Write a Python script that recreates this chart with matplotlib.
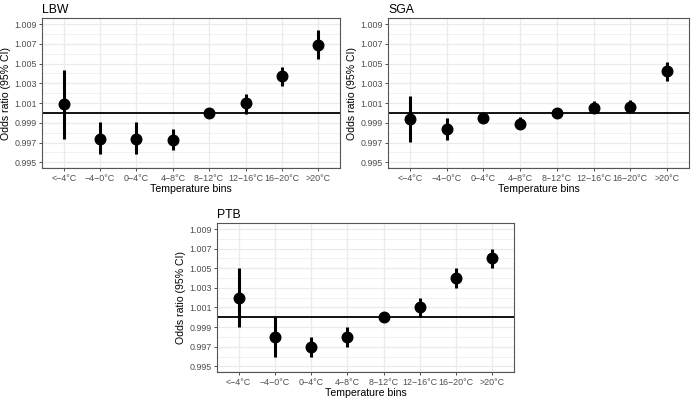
import matplotlib
matplotlib.use("Agg")
import matplotlib.pyplot as plt
import numpy as np

plt.rcParams['font.family'] = ['Liberation Sans', 'DejaVu Sans']

bins = ["<\u22124°C", "\u22124\u22120°C", "0\u22124°C", "4\u22128°C",
        "8\u221212°C", "12\u221216°C", "16\u221220°C", ">20°C"]
y_ticks = [0.995, 0.997, 0.999, 1.001, 1.003, 1.005, 1.007, 1.009]

lbw_or = [1.0009, 0.9974, 0.9974, 0.9973, 1.0000, 1.0010, 1.0037, 1.0069]
lbw_lo = [0.9974, 0.9958, 0.9958, 0.9962, 0.9999, 0.9999, 1.0027, 1.0055]
lbw_hi = [1.0044, 0.9991, 0.9991, 0.9984, 1.0001, 1.0019, 1.0047, 1.0084]

sga_or = [0.9994, 0.9984, 0.9995, 0.9989, 1.0000, 1.0005, 1.0006, 1.0042]
sga_lo = [0.9971, 0.9973, 0.9992, 0.9985, 0.9999, 1.0001, 1.0001, 1.0032]
sga_hi = [1.0017, 0.9995, 0.9998, 0.99955, 1.0001, 1.0012, 1.0013, 1.0052]

ptb_or = [1.002, 0.998, 0.997, 0.998, 1.000, 1.001, 1.004, 1.006]
ptb_lo = [0.999, 0.996, 0.996, 0.997, 0.9999, 1.000, 1.003, 1.005]
ptb_hi = [1.005, 1.000, 0.998, 0.999, 1.0001, 1.002, 1.005, 1.007]

W, H = 691, 399
fig = plt.figure(figsize=(W / 100, H / 100), dpi=100)


def px_axes(left, top, right, bottom):
    return fig.add_axes([left / W, 1 - bottom / H, (right - left) / W, (bottom - top) / H])


def panel(ax, title, est, lo, hi):
    x = np.arange(1, len(bins) + 1)
    ax.set_xlim(0.4, 8.6)
    ax.set_ylim(0.99442, 1.00962)
    minor = [v + 0.001 for v in y_ticks[:-1]] + [0.9945]
    ax.set_yticks(y_ticks)
    ax.set_yticks([v for v in minor if 0.99442 < v < 1.00962], minor=True)
    ax.set_yticklabels([f"{v:.3f}" for v in y_ticks])
    ax.set_xticks(x)
    ax.set_xticklabels(bins)
    ax.grid(True, which='major', color='#EBEBEB', lw=0.9)
    ax.grid(True, which='minor', axis='y', color='#EBEBEB', lw=0.5)
    ax.set_axisbelow(True)
    ax.tick_params(which='major', length=2.5, width=0.6, color='#333333',
                   labelsize=6.4, labelcolor='#4D4D4D', pad=1.5)
    ax.tick_params(which='minor', length=0)
    for s in ax.spines.values():
        s.set_color('#555555')
        s.set_linewidth(0.8)
    ax.axhline(1.0, color='black', lw=1.3, zorder=2)
    ax.vlines(x, lo, hi, color='black', lw=2.2, zorder=3)
    ax.plot(x, est, 'o', color='black', ms=7.6, zorder=4)
    ax.set_xlabel("Temperature bins", fontsize=7.6, labelpad=1)
    ax.set_ylabel("Odds ratio (95% CI)", fontsize=7.6, labelpad=2)
    ax.set_title(title, loc='left', fontsize=8.8, pad=3.5)


ax1 = px_axes(42, 18, 340, 168)
panel(ax1, "LBW", lbw_or, lbw_lo, lbw_hi)
ax2 = px_axes(388, 18, 689, 168)
panel(ax2, "SGA", sga_or, sga_lo, sga_hi)
ax3 = px_axes(217, 223, 514, 372)
panel(ax3, "PTB", ptb_or, ptb_lo, ptb_hi)

fig.savefig("out.png", dpi=100)
